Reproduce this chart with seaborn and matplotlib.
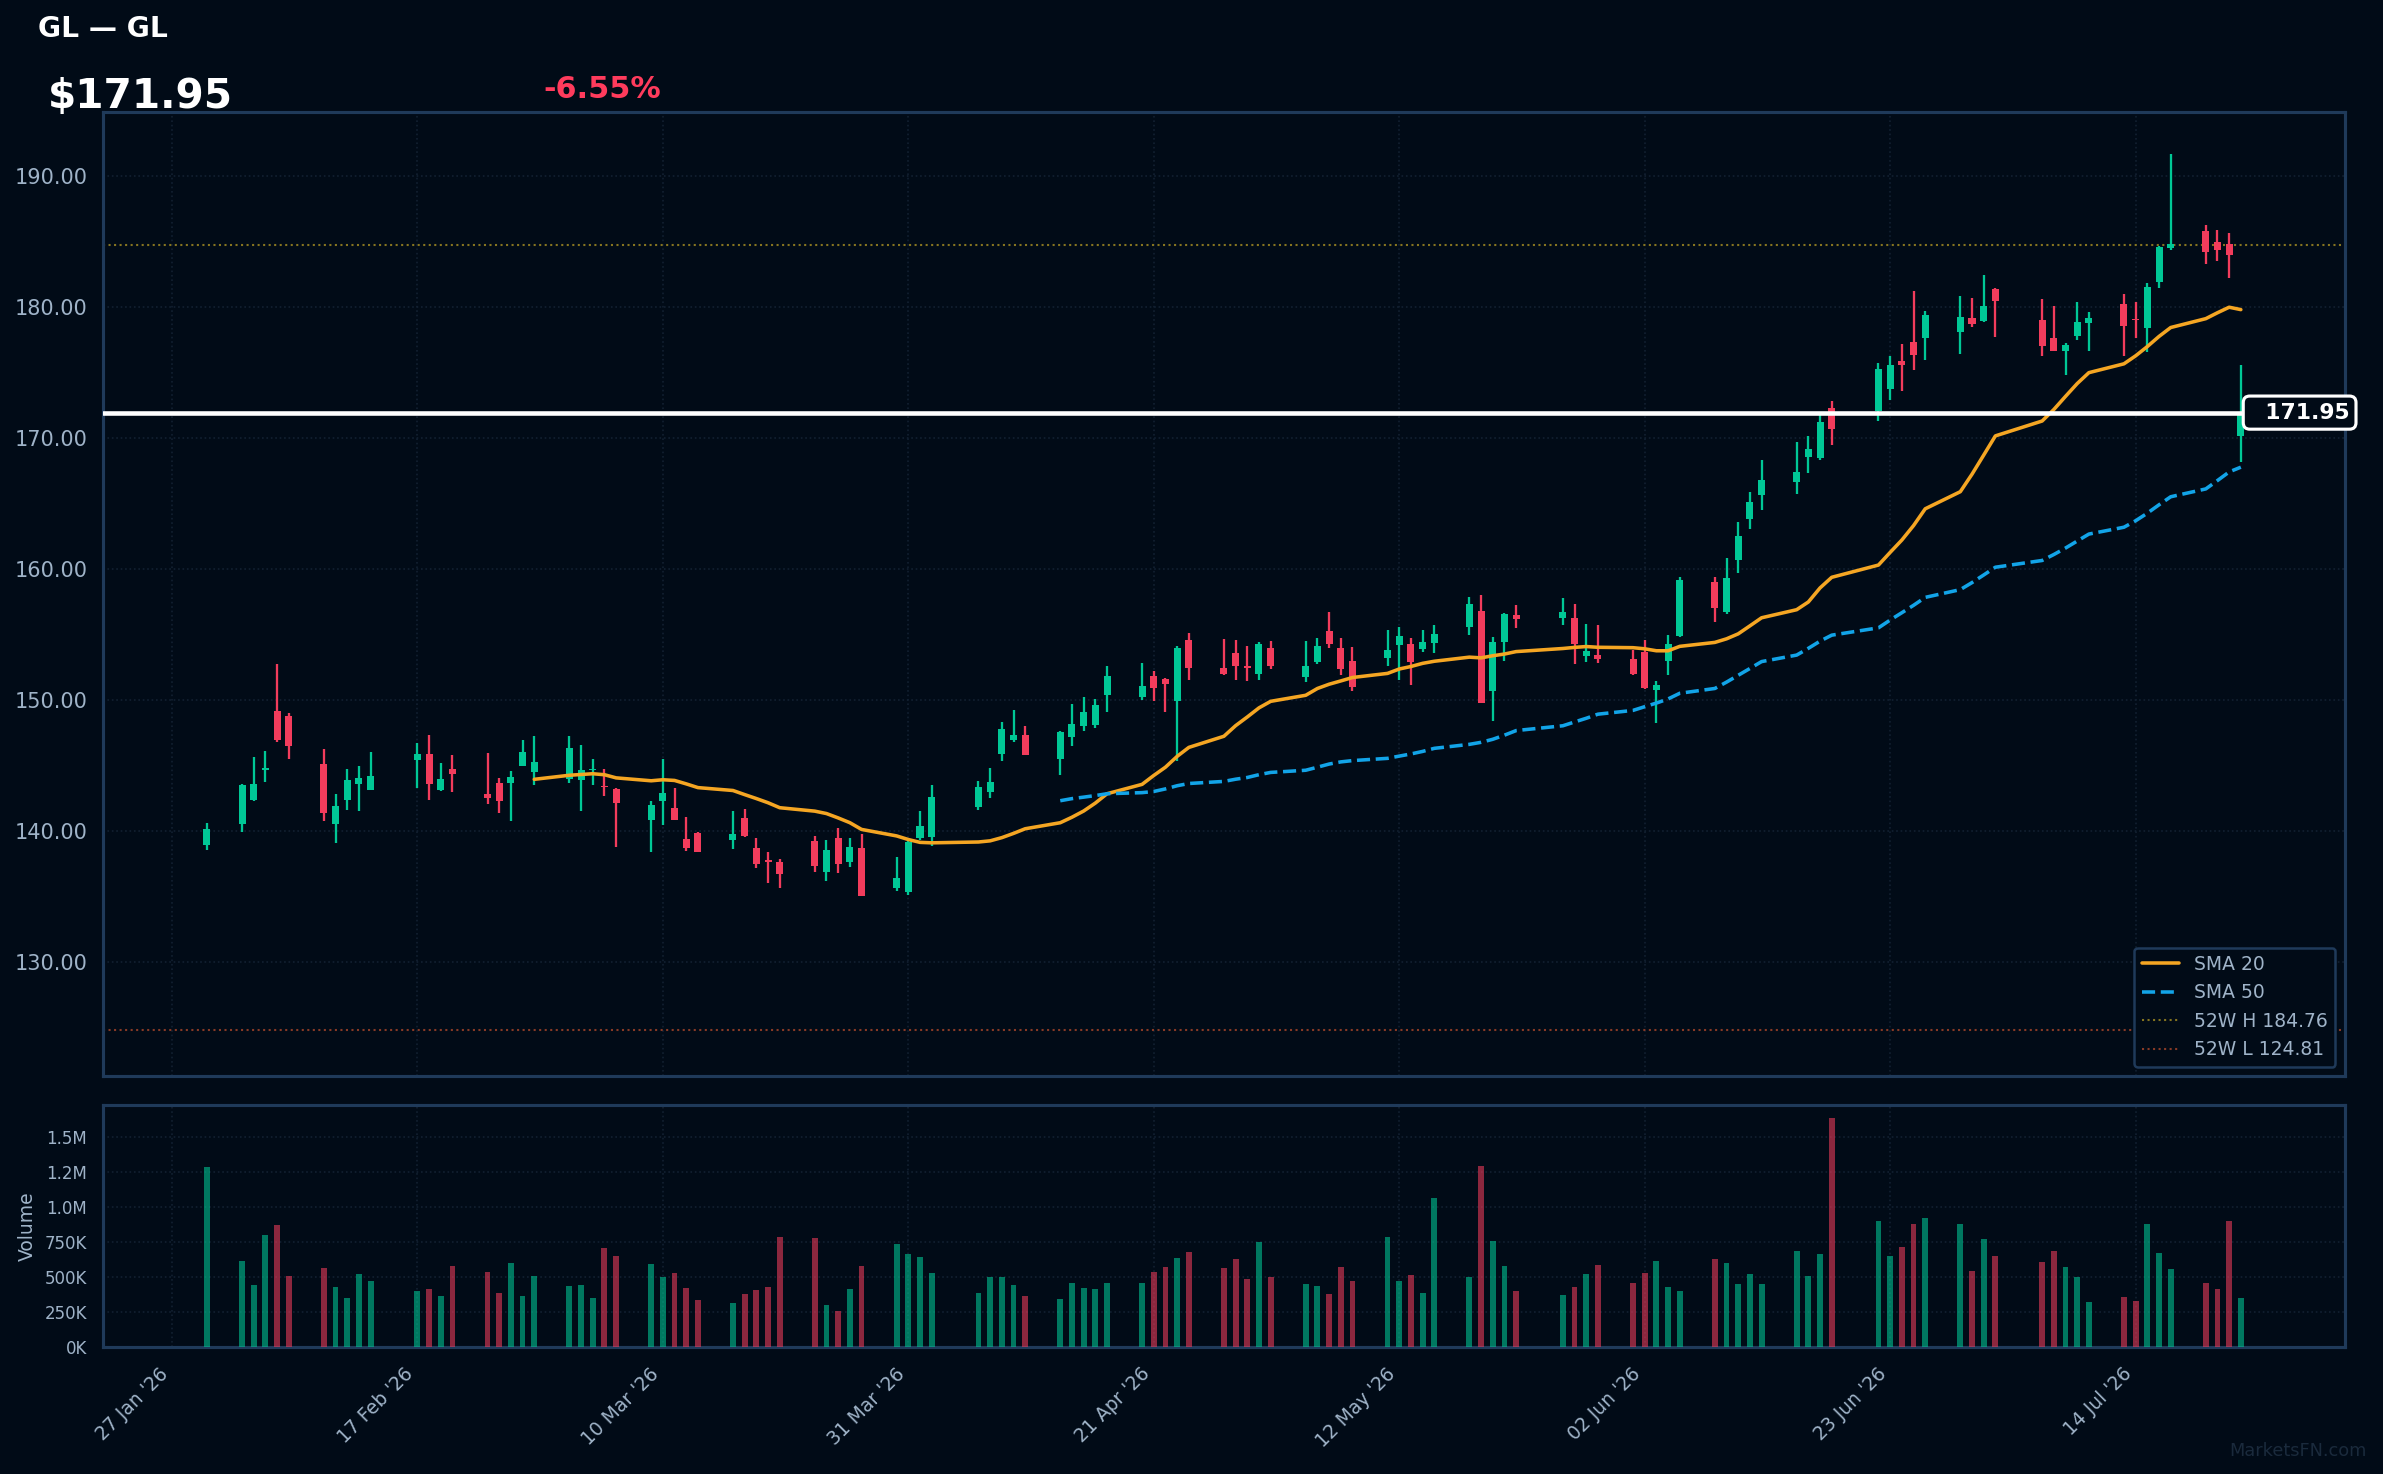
import pandas as pd
import numpy as np
import matplotlib.pyplot as plt
import matplotlib.dates as mdates
from matplotlib.ticker import FuncFormatter, MultipleLocator
import seaborn as sns

# ---- data ----
# trading days Jan 30 - Jul 23 2026, market holidays skipped
holidays = ['2026-02-16', '2026-04-03', '2026-05-25', '2026-06-19', '2026-07-03']
dates = pd.bdate_range('2026-01-30', '2026-07-23', freq='C', holidays=holidays)

opens = [138.91,
         140.51, 142.39, 144.63, 149.19, 148.80, 145.14, 140.51, 142.39, 143.56, 143.16,
         145.39, 145.90, 143.10, 144.76, 142.85, 143.69, 143.64, 144.99, 144.48,
         143.94, 143.87, 144.63, 143.38, 143.23, 140.81, 142.26, 141.78, 139.41, 139.87,
         139.29, 141.02, 138.73, 137.79, 137.66, 139.26, 136.84, 139.49, 137.61, 138.73,
         135.62, 135.32,
         139.44, 139.52, 141.81, 142.95, 145.85, 146.92, 147.35, 145.47, 147.15, 147.99,
         148.07, 150.36, 150.20, 151.86, 151.63, 149.97, 154.61, 152.47, 153.61, 152.62,
         152.01,
         154.00, 151.78, 152.93, 155.29, 154.00, 153.00, 153.23, 154.22, 154.30, 153.92,
         154.38, 155.60, 156.82, 150.71, 154.45, 156.51, 156.28, 156.28, 153.38, 153.46,
         153.13, 153.64, 150.79, 153.00, 154.91, 158.98, 156.69, 160.71, 163.82, 165.65,
         166.64, 168.58, 168.47, 172.29, 172.10, 173.74, 175.88, 177.33, 177.63, 178.07,
         179.19,
         178.98, 181.40, 179.03, 177.66, 176.69, 177.81, 178.83, 180.25, 179.05, 178.42,
         181.96, 184.55, 185.83, 184.99, 184.83, 170.15]
highs = [140.64,
         143.56, 145.67, 146.13, 152.77, 149.03, 146.29, 142.85, 144.76, 144.99, 146.06,
         146.74, 147.35, 145.22, 145.83, 145.98, 144.07, 144.61, 146.97, 147.28,
         147.28, 146.59, 145.52, 144.76, 143.28, 142.32, 145.52, 143.31, 141.09, 139.95,
         141.55, 141.70, 139.49, 138.42, 137.89, 139.64, 139.34, 140.25, 139.49, 139.80,
         138.04, 139.26,
         141.55, 143.54, 143.84, 144.83, 148.35, 149.26, 148.04, 147.66, 149.72, 150.25,
         150.10, 152.62, 152.85, 152.24, 151.70, 154.15, 155.14, 154.68, 154.61, 154.15,
         154.45,
         154.53, 154.53, 154.76, 156.74, 154.76, 154.07, 155.37, 155.60, 154.76, 155.37,
         155.75, 157.89, 158.04, 154.83, 156.67, 157.28, 157.81, 157.35, 155.83, 155.75,
         153.82, 154.58, 151.45, 154.96, 159.39, 159.39, 160.84, 163.59, 165.88, 168.32,
         169.69, 170.15, 171.76, 172.82, 175.73, 176.26, 177.18, 181.20, 179.70, 180.87,
         180.71,
         182.47, 181.48, 180.64, 180.10, 177.28, 180.41, 179.64, 181.02, 180.41, 181.86,
         184.68, 191.70, 186.28, 185.90, 185.67, 175.60]
lows = [138.52,
        139.90, 142.26, 143.72, 146.77, 145.47, 140.74, 139.06, 141.58, 141.50, 143.10,
        143.31, 142.34, 143.05, 142.95, 142.04, 141.35, 140.74, 144.94, 143.49,
        143.64, 141.50, 143.49, 142.65, 138.75, 138.37, 140.43, 140.81, 138.45, 138.37,
        138.60, 139.57, 137.20, 136.06, 135.67, 136.90, 136.21, 136.77, 137.23, 135.01,
        135.39, 135.09,
        139.29, 138.83, 141.60, 142.49, 145.32, 146.77, 145.78, 144.25, 146.46, 147.66,
        147.90, 149.11, 150.00, 149.95, 149.11, 145.32, 151.55, 151.93, 151.55, 151.48,
        151.55,
        152.39, 151.40, 152.77, 154.00, 151.93, 150.71, 152.62, 151.55, 151.17, 153.69,
        153.61, 154.99, 149.80, 148.42, 153.00, 155.52, 155.75, 152.77, 152.93, 152.85,
        151.90, 150.84, 148.24, 151.93, 154.80, 155.98, 156.56, 159.72, 163.05, 164.50,
        165.75, 167.33, 168.30, 169.47, 171.30, 172.90, 173.59, 175.20, 175.95, 176.46,
        178.52,
        178.90, 177.76, 176.31, 176.62, 174.86, 177.53, 176.62, 176.31, 177.61, 176.54,
        181.50, 184.40, 183.31, 183.49, 182.26, 168.17]
closes = [140.18,
          143.49, 143.61, 144.83, 146.92, 146.46, 141.35, 141.93, 143.92, 144.07, 144.22,
          145.90, 143.56, 143.99, 144.33, 142.54, 142.26, 144.15, 146.06, 145.29,
          146.36, 144.68, 144.76, 143.33, 142.11, 142.01, 142.93, 140.87, 138.68, 138.37,
          139.80, 139.64, 137.51, 137.61, 136.74, 137.30, 138.58, 137.46, 138.80, 135.01,
          136.44, 139.19,
          140.41, 142.62, 143.38, 143.77, 147.81, 147.35, 145.78, 147.58, 148.19, 149.11,
          149.64, 151.86, 151.09, 150.89, 151.20, 154.00, 152.47, 152.01, 152.62, 152.47,
          154.30,
          152.62, 152.62, 154.15, 154.30, 152.39, 151.02, 153.84, 154.91, 152.93, 154.45,
          155.06, 157.35, 149.80, 154.45, 156.59, 156.21, 156.74, 154.30, 153.77, 153.16,
          152.01, 150.92, 151.15, 154.27, 159.16, 157.05, 159.31, 162.52, 165.11, 166.79,
          167.40, 169.16, 171.22, 170.69, 175.30, 175.57, 175.60, 176.36, 179.40, 179.26,
          178.68,
          180.10, 180.51, 177.00, 176.69, 177.12, 178.88, 179.19, 178.60, 179.00, 181.55,
          184.61, 184.83, 184.22, 184.33, 184.00, 171.95]
volumes_k = [1280,
             612, 440, 798, 869, 505, 562, 426, 348, 519, 469,
             398, 412, 362, 576, 533, 383, 598, 362, 505,
             433, 440, 348, 705, 648, 590, 498, 526, 419, 333,
             312, 376, 405, 426, 783, 776, 298, 255, 412, 576,
             733, 662,
             640, 526, 383, 498, 498, 440, 362, 340, 455, 419,
             412, 455, 455, 533, 569, 633, 676, 562, 626, 483,
             748,
             498, 448, 433, 376, 569, 469, 783, 469, 512, 383,
             1062, 498, 1290, 755, 576, 398, 369, 426, 519, 583,
             455, 526, 612, 426, 398, 626, 598, 448, 519, 448,
             683, 505, 662, 1633, 898, 648, 712, 876, 919, 876,
             540,
             769, 648, 605, 683, 569, 498, 319, 355, 326, 876,
             669, 555, 455, 412, 898, 348]

last_price = 171.95
change_pct = '-6.55%'
high_52w = 184.76
low_52w = 124.81
tick_dates = pd.date_range('2026-01-27', '2026-07-14', freq='21D')

df = pd.DataFrame({'date': dates, 'open': opens, 'high': highs, 'low': lows,
                   'close': closes, 'volume': np.array(volumes_k) * 1000})
df['sma20'] = df['close'].rolling(20).mean()
df['sma50'] = df['close'].rolling(50).mean()
df['up'] = df['close'] >= df['open']

# ---- style ----
bg = '#010b17'
spine_c = '#1f3a5a'
grid_c = '#122031'
txt_c = '#9fb3c8'
up_c = '#00c896'
dn_c = '#f23c5c'

sns.set_theme(style='dark', rc={'axes.facecolor': bg, 'figure.facecolor': bg})
plt.rcParams['font.family'] = ['DejaVu Sans']

fig = plt.figure(figsize=(2383 / 150, 1474 / 150), dpi=150)
ax = fig.add_axes([0.0432, 0.270, 0.9408, 0.654])
axv = fig.add_axes([0.0432, 0.0864, 0.9408, 0.1639], sharex=ax)

for a in (ax, axv):
    a.set_facecolor(bg)
    for s in a.spines.values():
        s.set_color(spine_c)
        s.set_linewidth(1.5)
    a.grid(True, color=grid_c, linestyle=':', linewidth=0.8)
    a.set_axisbelow(True)
    a.tick_params(colors=txt_c, labelcolor=txt_c)

# candles
colors = np.where(df['up'], up_c, dn_c)
body = (df['close'] - df['open']).abs().clip(lower=0.08)
ax.vlines(df['date'], df['low'], df['high'], colors=colors, linewidth=1.1, zorder=3)
ax.bar(df['date'], body, bottom=df[['open', 'close']].min(axis=1), width=0.6,
       color=colors, linewidth=0, zorder=3)

# moving averages
sns.lineplot(x=df['date'], y=df['sma20'], ax=ax, color='#f5a623', linewidth=1.7,
             label='SMA 20', zorder=4)
sns.lineplot(x=df['date'], y=df['sma50'], ax=ax, color='#12a4e8', linewidth=1.7,
             linestyle='--', label='SMA 50', zorder=4)
ax.axhline(high_52w, color='#857420', linestyle=':', linewidth=1.0,
           label=f'52W H {high_52w:.2f}')
ax.axhline(low_52w, color='#883a26', linestyle=':', linewidth=1.0,
           label=f'52W L {low_52w:.2f}')

# last price line + tag
ax.axhline(last_price, color='white', linewidth=2.2, zorder=5)
ax.text(0.9576, last_price, '  171.95', transform=ax.get_yaxis_transform(),
        ha='left', va='center', fontsize=10.5, fontweight='bold', color='white',
        bbox=dict(boxstyle='round,pad=0.3', fc=bg, ec='white', lw=1.5),
        zorder=10, clip_on=False)

ax.set_ylim(121.3, 194.9)
ax.yaxis.set_major_locator(MultipleLocator(10))
ax.yaxis.set_major_formatter(FuncFormatter(lambda v, p: f'{v:.2f}'))
ax.tick_params(axis='y', labelsize=10, length=4)
ax.tick_params(axis='x', labelbottom=False, length=0)
ax.set_xlabel('')
ax.set_ylabel('')

leg = ax.legend(loc='lower right', fontsize=9, facecolor=bg, edgecolor=spine_c,
                framealpha=1.0, labelcolor=txt_c)
leg.get_frame().set_linewidth(1.2)

# volume
vcolors = np.where(df['up'], up_c, dn_c)
axv.bar(df['date'], df['volume'], width=0.5, color=vcolors, alpha=0.58, linewidth=0, zorder=3)
axv.set_ylim(0, 1.726e6)
axv.yaxis.set_major_locator(MultipleLocator(250000))
axv.yaxis.set_major_formatter(FuncFormatter(
    lambda v, p: f'{v / 1e6:.1f}M' if v >= 1e6 else f'{v / 1e3:.0f}K'))
axv.set_ylabel('Volume', color=txt_c, fontsize=9)
axv.tick_params(axis='y', labelsize=8, length=4)

x0 = df['date'].iloc[0] - pd.Timedelta(days=8.9)
x1 = df['date'].iloc[-1] + pd.Timedelta(days=8.9)
axv.set_xlim(x0, x1)
axv.set_xticks(tick_dates)
axv.xaxis.set_major_formatter(mdates.DateFormatter("%d %b '%y"))
axv.tick_params(axis='x', labelsize=9, length=5)
plt.setp(axv.get_xticklabels(), rotation=45, ha='right')

# header texts
fig.text(0.016, 0.975, 'GL — GL', color='white', fontsize=13.5, fontweight='bold',
         va='baseline')
fig.text(0.020, 0.9267, f'${last_price:.2f}', color='white', fontsize=19.5,
         fontweight='bold', va='baseline')
fig.text(0.228, 0.9335, change_pct, color='#ff3b5c', fontsize=14.5,
         fontweight='bold', va='baseline')
fig.text(0.993, 0.012, 'MarketsFN.com', color='#1a2a3c', fontsize=8.5, ha='right',
         va='baseline')

fig.savefig('out.png', dpi=150, facecolor=bg)
